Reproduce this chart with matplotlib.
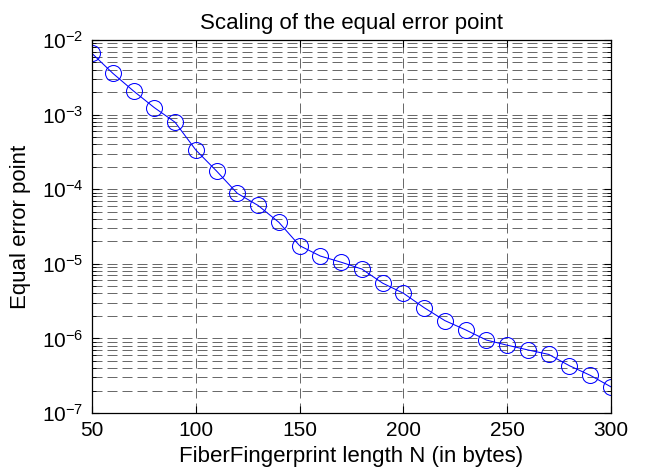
import matplotlib
matplotlib.use('Agg')
import matplotlib.pyplot as plt
from matplotlib.ticker import LogLocator, FixedLocator, NullFormatter

plt.rcParams['font.family'] = ['Liberation Sans', 'DejaVu Sans']
plt.rcParams['mathtext.fontset'] = 'custom'
plt.rcParams['mathtext.rm'] = 'Liberation Sans'

# FiberFingerprint length N (bytes) and equal error point
lengths = [50, 60, 70, 80, 90, 100, 110, 120, 130, 140, 150, 160, 170,
           180, 190, 200, 210, 220, 230, 240, 250, 260, 270, 280, 290, 300]
eer = [6.6e-3, 3.58e-3, 2.07e-3, 1.24e-3, 7.9e-4, 3.35e-4, 1.75e-4, 8.8e-5,
       6.05e-5, 3.6e-5, 1.75e-5, 1.27e-5, 1.05e-5, 8.5e-6, 5.5e-6, 4.03e-6,
       2.58e-6, 1.73e-6, 1.30e-6, 9.5e-7, 8.1e-7, 7.0e-7, 6.1e-7, 4.3e-7,
       3.2e-7, 2.24e-7]
x_ticks = [50, 100, 150, 200, 250, 300]

fig = plt.figure(figsize=(6.52, 4.74), dpi=100)
ax = fig.add_axes([0.1411, 0.1287, 0.796, 0.787])

ax.semilogy(lengths, eer, '-o', color='blue', linewidth=0.75,
            markersize=11.5, markerfacecolor='none', markeredgewidth=0.75)

ax.set_xlim(50, 300)
ax.set_ylim(1e-7, 1e-2)
ax.xaxis.set_major_locator(FixedLocator(x_ticks))
ax.yaxis.set_major_locator(LogLocator(base=10, numticks=10))
ax.yaxis.set_minor_locator(LogLocator(base=10, subs=range(2, 10), numticks=10))
ax.yaxis.set_minor_formatter(NullFormatter())

dash = (0, (12, 6))
ax.grid(True, which='major', axis='both', color='0.3', linestyle=dash, linewidth=0.6)
ax.grid(True, which='minor', axis='y', color='0.3', linestyle=dash, linewidth=0.6)
ax.tick_params(which='both', direction='in', top=True, right=True, labelsize=15)
ax.tick_params(which='major', length=5, pad=6)
ax.tick_params(which='minor', length=3)
for s in ax.spines.values():
    s.set_linewidth(0.9)

ax.set_title('Scaling of the equal error point', fontsize=16, pad=8)
ax.set_xlabel('FiberFingerprint length N (in bytes)', fontsize=16, labelpad=4)
ax.set_ylabel('Equal error point', fontsize=16, labelpad=8)

fig.savefig('out.png', dpi=100)
